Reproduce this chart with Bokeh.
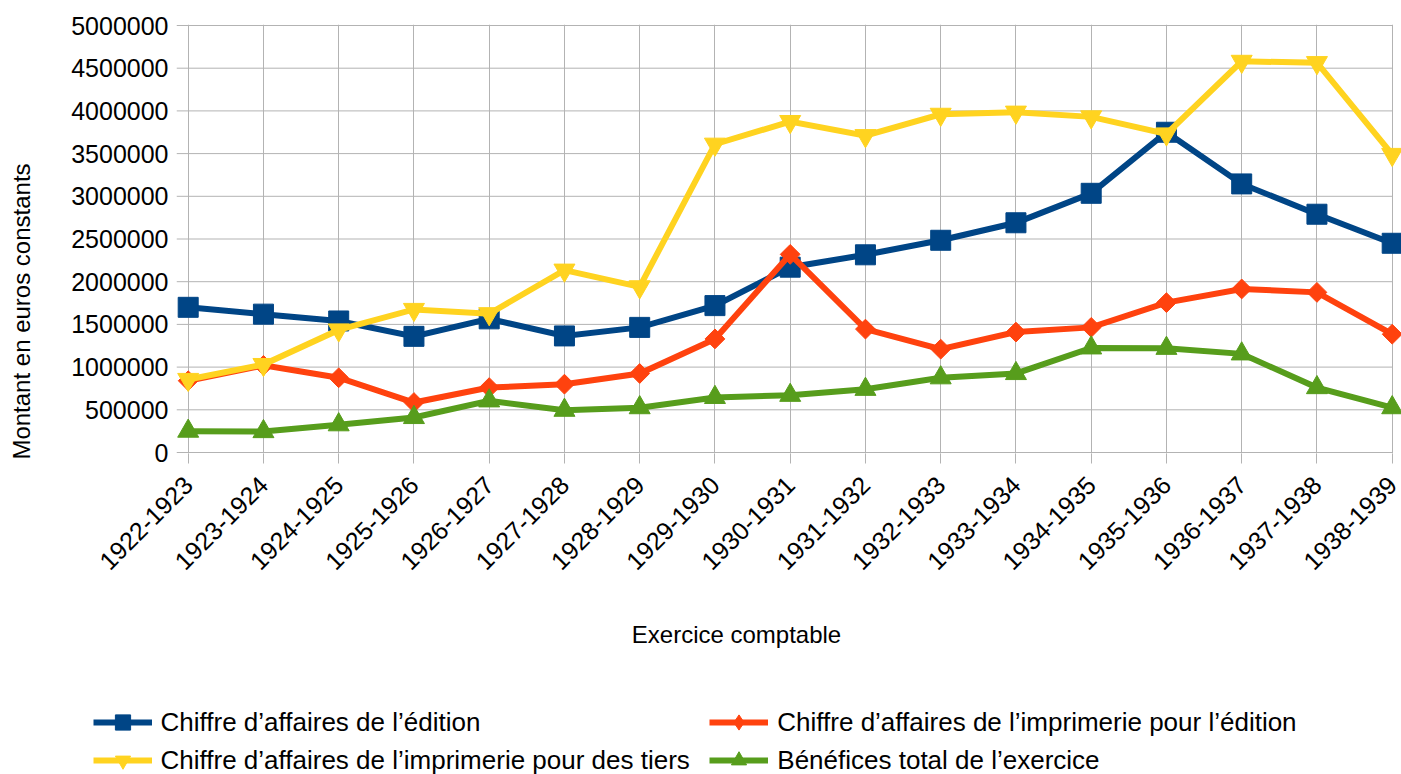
import math
from bokeh.plotting import figure
from bokeh.models import Range1d, FixedTicker, Label, Legend, LegendItem
from bokeh.layouts import row, column
from bokeh.embed import file_html
from bokeh.resources import INLINE

categories = ["1922-1923", "1923-1924", "1924-1925", "1925-1926", "1926-1927",
              "1927-1928", "1928-1929", "1929-1930", "1930-1931", "1931-1932",
              "1932-1933", "1933-1934", "1934-1935", "1935-1936", "1936-1937",
              "1937-1938", "1938-1939"]

ca_edition = [1700000, 1620000, 1540000, 1360000, 1565000, 1365000, 1465000, 1720000,
              2170000, 2315000, 2485000, 2690000, 3035000, 3750000, 3145000, 2790000, 2450000]
ca_impr_edition = [840000, 1020000, 875000, 585000, 760000, 800000, 925000, 1330000,
                   2320000, 1445000, 1210000, 1410000, 1465000, 1755000, 1915000, 1875000, 1385000]
ca_impr_tiers = [855000, 1030000, 1435000, 1675000, 1625000, 2135000, 1940000, 3610000,
                 3875000, 3710000, 3960000, 3985000, 3930000, 3730000, 4580000, 4565000, 3490000]
benefices = [250000, 245000, 325000, 410000, 605000, 495000, 525000, 645000,
             670000, 740000, 875000, 925000, 1225000, 1220000, 1155000, 760000, 525000]

series_names = ["Chiffre d\u2019affaires de l\u2019\u00e9dition",
                "Chiffre d\u2019affaires de l\u2019imprimerie pour l\u2019\u00e9dition",
                "Chiffre d\u2019affaires de l\u2019imprimerie pour des tiers",
                "B\u00e9n\u00e9fices total de l\u2019exercice"]

y_ticks = list(range(0, 5000001, 500000))

x_title = "Exercice comptable"
y_title = "Montant en euros constants"

FONT = "Liberation Sans"
GRID = "#b3b3b3"
colors = ["#004586", "#ff420e", "#ffd320", "#579d1c"]

TOTAL_W, TOTAL_H = 1401, 774
LEFT_W = 40
MAIN_W, MAIN_H = TOTAL_W - LEFT_W, 600
BOT_H = TOTAL_H - MAIN_H

# ---------------- left strip: y axis title ----------------
yfig = figure(width=LEFT_W, height=TOTAL_H, output_backend="svg", toolbar_location=None,
              x_axis_type=None, y_axis_type=None, min_border=0,
              x_range=Range1d(0, LEFT_W), y_range=Range1d(0, TOTAL_H))
yfig.outline_line_color = None
yfig.add_layout(Label(x=21, y=TOTAL_H - 311, text=y_title, angle=math.pi / 2,
                      text_align="center", text_baseline="middle", text_font=FONT,
                      text_font_size="24px", text_color="black"))

# ---------------- main chart ----------------
px_per_cat = 75.25
x_start = -11.7 / px_per_cat
frame_w = MAIN_W - 136
x_end = x_start + frame_w / px_per_cat
y_pad = 5000000 / 427.0

p = figure(width=MAIN_W, height=MAIN_H, output_backend="svg", toolbar_location=None,
           min_border_left=136, min_border_right=0, min_border_top=24, min_border_bottom=147,
           x_range=Range1d(x_start, x_end), y_range=Range1d(-y_pad, 5000000 + y_pad))
p.outline_line_color = None

xs = list(range(len(categories)))

p.xaxis.ticker = FixedTicker(ticks=xs)
p.xaxis.major_label_overrides = {i: c for i, c in enumerate(categories)}
p.xaxis.major_label_orientation = math.pi / 4
p.xaxis.major_label_text_font = FONT
p.xaxis.major_label_text_font_size = "25px"
p.xaxis.major_label_text_color = "black"
p.xaxis.major_tick_out = 10
p.xaxis.major_tick_in = 0
p.xaxis.major_tick_line_color = GRID
p.xaxis.minor_tick_line_color = None
p.xaxis.axis_line_color = None
p.xaxis.major_label_standoff = 17

p.yaxis.ticker = FixedTicker(ticks=y_ticks)
p.yaxis.major_label_overrides = {v: str(v) for v in y_ticks}
p.yaxis.major_label_text_font = FONT
p.yaxis.major_label_text_font_size = "25px"
p.yaxis.major_label_text_color = "black"
p.yaxis.major_tick_out = 0
p.yaxis.major_tick_in = 0
p.yaxis.major_tick_line_color = None
p.yaxis.minor_tick_line_color = None
p.yaxis.axis_line_color = None
p.yaxis.major_label_standoff = 8

p.xgrid.ticker = FixedTicker(ticks=xs)
p.xgrid.grid_line_color = GRID
p.ygrid.grid_line_color = None

# horizontal grid lines (from the tick-out at the left to the last category)
p.segment(x0=[x_start] * len(y_ticks), x1=[xs[-1]] * len(y_ticks), y0=y_ticks, y1=y_ticks,
          line_color=GRID, line_width=1)

markers = ["square", "square", "inverted_triangle", "triangle"]
angles = [0, math.pi / 4, 0, 0]
sizes = [20, 14, 21, 21]
data = [ca_edition, ca_impr_edition, ca_impr_tiers, benefices]

for ys, c, m, a, s in zip(data, colors, markers, angles, sizes):
    p.line(xs, ys, line_color=c, line_width=6, line_join="miter")
    p.scatter(xs, ys, marker=m, size=s, angle=a, fill_color=c, line_color=c)

# ---------------- bottom strip: x title + legend ----------------
bfig = figure(width=MAIN_W, height=BOT_H, output_backend="svg", toolbar_location=None,
              x_axis_type=None, y_axis_type=None, min_border=0,
              x_range=Range1d(0, MAIN_W), y_range=Range1d(0, BOT_H))
bfig.outline_line_color = None
bfig.add_layout(Label(x=736 - LEFT_W, y=TOTAL_H - 634, text=x_title,
                      text_align="center", text_baseline="middle", text_font=FONT,
                      text_font_size="24px", text_color="black"))

leg_markers = ["square", "diamond", "inverted_triangle", "triangle"]
nan = float("nan")
items = []
for name, c, m in zip(series_names, colors, leg_markers):
    lr = bfig.line(x=[nan, nan], y=[nan, nan], line_color=c, line_width=6)
    sr = bfig.scatter(x=[nan], y=[nan], marker=m, size=15, fill_color=c, line_color=c)
    items.append(LegendItem(label=name, renderers=[lr, sr]))

def make_legend(its, x, y):
    return Legend(items=its, location=(x, y), orientation="vertical",
                  glyph_width=59, glyph_height=38, label_standoff=9, spacing=0,
                  padding=0, margin=0, border_line_color=None, background_fill_alpha=0,
                  label_text_font=FONT, label_text_font_size="26px", label_text_color="black")

leg_bottom = BOT_H - (722.3 - MAIN_H + 19 + 38)
bfig.add_layout(make_legend([items[0], items[2]], 92.5 - LEFT_W, leg_bottom))
bfig.add_layout(make_legend([items[1], items[3]], 709.3 - LEFT_W, leg_bottom))

layout = row(yfig, column(p, row(bfig, spacing=0), spacing=0), spacing=0)

open("out.html", "w").write(file_html(layout, INLINE))
